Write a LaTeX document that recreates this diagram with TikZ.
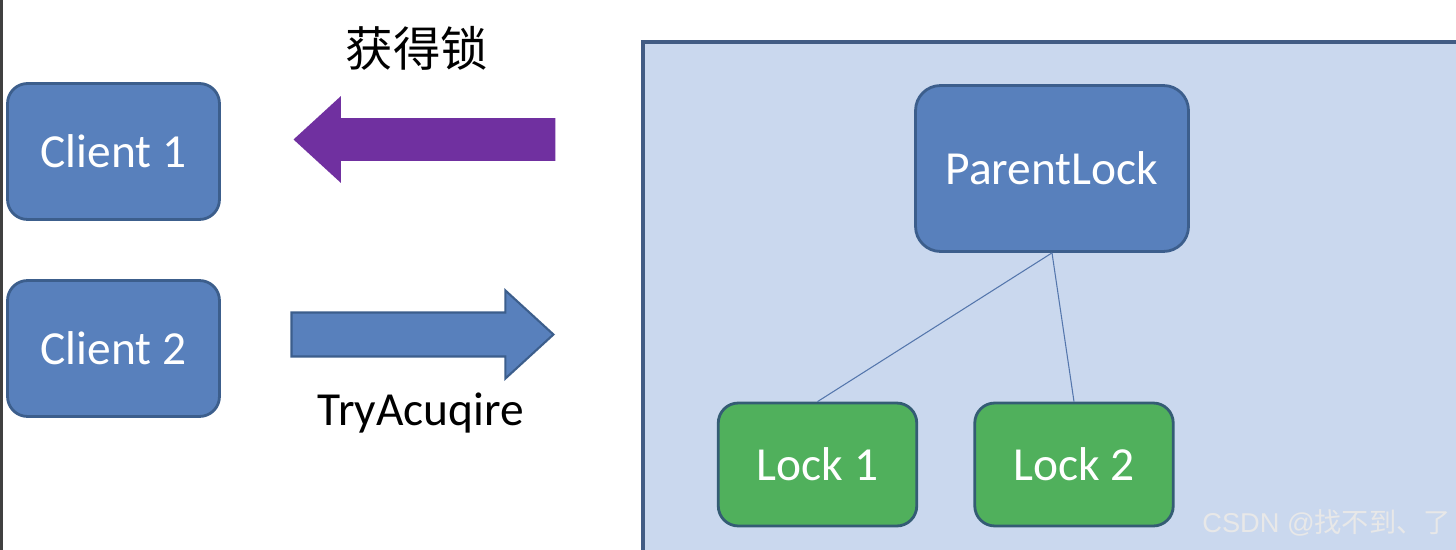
\documentclass[tikz,border=0pt]{standalone}
\usepackage{fontspec}
\setmainfont{Carlito}
\newfontfamily\cjk{Noto Sans CJK SC}
\newfontfamily\wmfont{Liberation Sans}
\usetikzlibrary{positioning,shapes.arrows}
\definecolor{clientblue}{RGB}{88,128,188}
\definecolor{boxedge}{RGB}{60,94,140}
\definecolor{lockgreen}{RGB}{80,176,92}
\definecolor{lockedge}{RGB}{52,92,116}
\definecolor{panelfill}{RGB}{202,216,238}
\definecolor{paneledge}{RGB}{66,92,132}
\definecolor{grabpurple}{RGB}{112,48,160}
\definecolor{linkblue}{RGB}{84,118,172}

\begin{document}
\begin{tikzpicture}[x=0.02cm,y=-0.02cm,
  box/.style={draw=boxedge,fill=clientblue,line width=1.6pt,rounded corners=0.4cm,text=white,font=\fontsize{27}{31}\selectfont},
  lockbox/.style={box,draw=lockedge,fill=lockgreen,minimum width=3.97cm,minimum height=2.46cm},
  blockarr/.style={single arrow,minimum height=5.24cm,inner xsep=0pt,inner ysep=0.42cm,single arrow head extend=0.44cm,single arrow tip angle=85,single arrow head indent=0pt},
  link/.style={draw=linkblue,line width=0.6pt}]
\useasboundingbox (0,0) rectangle (1456,550);
\fill[white] (0,0) rectangle (1456,550);
\fill[black!75] (0,0) rectangle (3,550);
% the lock service
\draw[fill=panelfill,draw=paneledge,line width=2.4pt] (643,42) rectangle (1480,580);
\node[box,minimum width=5.46cm,minimum height=3.32cm,rounded corners=0.5cm] (parent) at (1052,168.5) {ParentLock};
\node[lockbox] (lock1) at (817.5,464.5) {Lock 1};
\node[lockbox] (lock2) at (1074,464.5) {Lock 2};
\draw[link] (parent.south) -- (lock1.north);
\draw[link] (parent.south) -- (lock2.north);
% clients
\node[box,minimum width=4.24cm,minimum height=2.72cm] (c1) at (113.5,151.5) {Client 1};
\node[box,minimum width=4.24cm,minimum height=2.72cm] (c2) at (113.5,348.5) {Client 2};
\node[blockarr,fill=grabpurple,shape border rotate=180,anchor=tip] (grab) at (293,139.5) {};
\node[blockarr,fill=clientblue,draw=boxedge,line width=1.2pt,anchor=tip] (try) at (555,334.5) {};
\node[font=\cjk\fontsize{27}{31}\selectfont] (grablbl) at (417,48) {获得锁};
\node[anchor=base,font=\fontsize{27}{31}\selectfont] (trylbl) at (421,425) {TryAcuqire};
\node[anchor=west,text=white!82!gray,font=\fontsize{15.5}{18}\selectfont,inner sep=0pt] (mark) at (1202,523) {{\wmfont CSDN @}{\cjk 找不到、了}};
\end{tikzpicture}
\end{document}
